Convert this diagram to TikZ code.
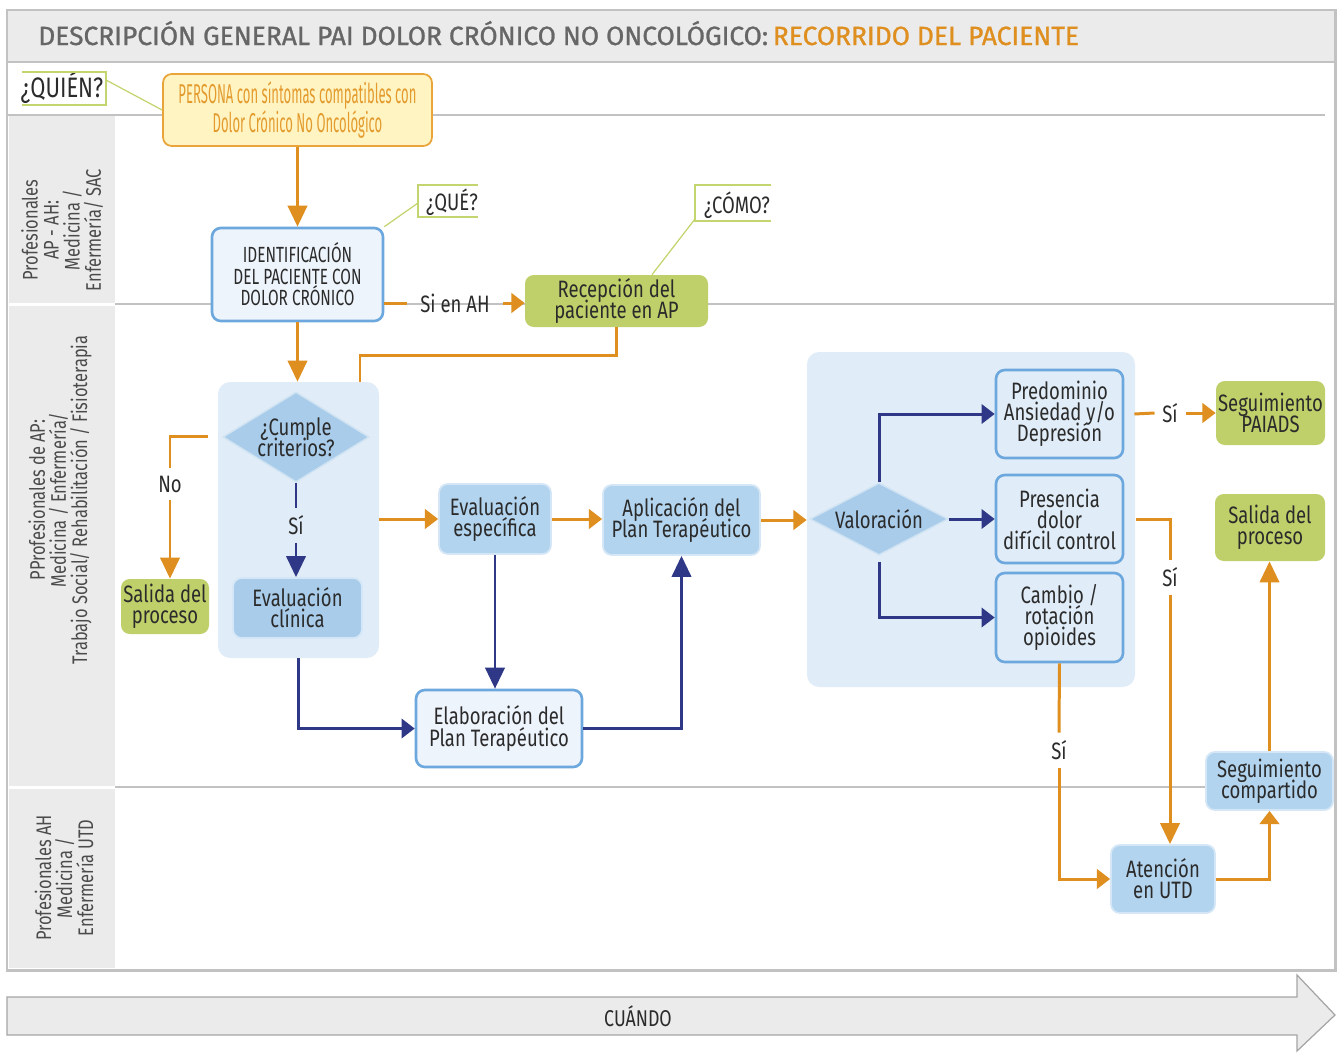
\documentclass[tikz,border=0pt]{standalone}
\usepackage{fontspec}
\setmainfont{Fira Sans}[FakeStretch=0.78]
\newfontfamily\narrowfont{Fira Sans}[FakeStretch=0.7]
\newfontfamily\condfont{Fira Sans}[FakeStretch=0.48]
\newfontfamily\titlefont{Fira Sans}[FakeStretch=1.0,FakeBold=1]
\usetikzlibrary{arrows.meta,shapes.geometric,calc}
\setlength{\lineskiplimit}{-20pt}
\definecolor{orng}{HTML}{DE8F1F}
\definecolor{navy}{HTML}{2E3886}
\definecolor{grn}{HTML}{BFD06A}
\definecolor{lblue}{HTML}{B2D4EE}
\definecolor{dblue}{HTML}{A8CCEA}
\definecolor{contf}{HTML}{E0ECF7}
\definecolor{bbord}{HTML}{6CA8DE}
\definecolor{pale}{HTML}{EEF4FC}
\definecolor{lgray}{HTML}{C2C2C2}
\definecolor{bggray}{HTML}{EBEBEB}
\definecolor{txt}{HTML}{2B2B2B}
\definecolor{ttl}{HTML}{666666}
\definecolor{cgreen}{HTML}{C2D56E}
\definecolor{yell}{HTML}{FFF4C2}
\definecolor{yellb}{HTML}{EAA53A}
\definecolor{ytxt}{HTML}{E39B2E}
\begin{document}
\begin{tikzpicture}[x=0.02cm,y=-0.02cm,
  base/.style={align=center, inner sep=0pt, text=txt, font=\fontsize{13.5}{12}\selectfont, rounded corners=5pt},
  size/.style 2 args={minimum width=#1*0.02cm, minimum height=#2*0.02cm},
  paleb/.style={base, fill=pale, draw=bbord, line width=1.5pt},
  lbox/.style={base, fill=lblue, draw=lblue!55!white, line width=1pt},
  gbox/.style={base, fill=grn},
  pbox/.style={base, fill=yell, draw=yellb, line width=1pt, text=ytxt},
  cont/.style={fill=contf, rounded corners=7pt, inner sep=0pt},
  dia/.style={diamond, fill=dblue, draw=dblue!55!white, line width=0.8pt, inner sep=0pt, align=center, text=txt, font=\fontsize{13.5}{12}\selectfont},
  oline/.style={draw=orng, line width=1.7pt},
  nline/.style={draw=navy, line width=1.7pt},
  btip/.style={-{Triangle[length=12pt,width=11pt]}},
  stip/.style={-{Triangle[length=7.5pt,width=11pt]}},
  lbl/.style={inner sep=0.15cm, text=txt, font=\fontsize{13.5}{12}\selectfont},
  callout/.style={draw=cgreen, line width=1.3pt},
  lane/.style={rotate=90, align=center, inner sep=0pt, text=txt!85!white, font=\fontsize{12}{12}\selectfont}
]
\useasboundingbox (0,0) rectangle (1339,1052);
\fill[white] (0,0) rectangle (1339,1052);
% frame and title
\fill[bggray] (7,10) rectangle (1335,62);
\fill[bggray] (9,116) rectangle (115,968);
\fill[white] (9,302.5) rectangle (115,305.5);
\fill[white] (9,785.5) rectangle (115,788.5);
\draw[lgray, line width=1.3pt] (8,115) -- (1325,115);
\draw[lgray, line width=1.3pt] (115,304) -- (1335,304);
\draw[lgray, line width=1.3pt] (115,787) -- (1335,787);
\draw[lgray, line width=1.4pt] (7,62) -- (1335,62);
\draw[lgray, line width=1.7pt] (7,10) rectangle (1335,970);
\node[anchor=base west, inner sep=0pt, text=ttl, font=\titlefont\fontsize{15}{15}\selectfont] (title) at (38,45) {DESCRIPCIÓN GENERAL PAI DOLOR CRÓNICO NO ONCOLÓGICO:};
\node[anchor=base west, inner sep=0pt, text=orng, font=\titlefont\fontsize{15}{15}\selectfont] (subtitle) at ([xshift=0.08cm]title.base east) {RECORRIDO DEL PACIENTE};
% lane labels
\node[lane] (lane1) at (62,230) {Profesionales\\AP - AH:\\Medicina /\\Enfermería/ SAC};
\node[lane] (lane2) at (60,500) {PProfesionales de AP:\\Medicina / Enfermería/\\Trabajo Social/ Rehabilitación / Fisioterapia};
\node[lane] (lane3) at (64,878) {Profesionales AH\\Medicina /\\Enfermería UTD};
% bottom arrow
\draw[fill=bggray, draw=lgray!85!black, line width=0.7pt] (7,997) -- (1297,997) -- (1297,975) -- (1335,1015) -- (1297,1051) -- (1297,1035) -- (7,1035) -- cycle;
\node[inner sep=0pt, text=txt, font=\fontsize{13}{13}\selectfont] (cuando) at (638,1016) {CUÁNDO};
% containers
\node[cont, size={161}{276}] (cont1) at (298.5,520) {};
\node[cont, size={328}{335}] (cont2) at (971,519.5) {};
% nodes
\node[pbox, size={269}{72}, font=\condfont\fontsize{15.5}{16}\selectfont] (person) at (297.5,110) {PERSONA con síntomas compatibles con\\Dolor Crónico No Oncológico};
\node[paleb, size={171}{93}, font=\narrowfont\fontsize{12.5}{12.3}\selectfont] (ident) at (297.5,274.5) {IDENTIFICACIÓN\\DEL PACIENTE CON\\DOLOR CRÓNICO};
\node[gbox, size={183}{52}] (recep) at (616.5,301) {Recepción del\\paciente en AP};
\node[dia, aspect=1.62, minimum width=146*0.02cm, minimum height=90*0.02cm] (cumple) at (296,437) {¿Cumple\\criterios?};
\node[gbox, size={88}{55}] (salida1) at (165,606.5) {Salida del\\proceso};
\node[lbox, fill=dblue, size={129}{60}] (evalc) at (297.5,608) {Evaluación\\clínica};
\node[lbox, size={112}{70}] (evale) at (495,519) {Evaluación\\específica};
\node[lbox, size={157}{70}] (aplic) at (681.5,520) {Aplicación del\\Plan Terapéutico};
\node[paleb, size={166}{77}] (elab) at (499,728.5) {Elaboración del\\Plan Terapéutico};
\node[dia, aspect=1.9, minimum width=138*0.02cm, minimum height=72*0.02cm] (valor) at (879,519) {Valoración};
\node[paleb, fill=contf, size={127}{88}] (pred) at (1059.5,414) {Predominio\\Ansiedad y/o\\Depresión};
\node[paleb, fill=contf, size={127}{88}] (pres) at (1059.5,519) {Presencia\\dolor\\difícil control};
\node[paleb, fill=contf, size={127}{89}] (camb) at (1059.5,617.5) {Cambio /\\rotación\\opioides};
\node[gbox, size={109}{64}] (segp) at (1270.5,413) {Seguimiento\\PAIADS};
\node[gbox, size={110}{67}] (salida2) at (1270,527.5) {Salida del\\proceso};
\node[lbox, size={104}{68}] (aten) at (1163,879) {Atención\\en UTD};
\node[lbox, size={127}{58}] (segc) at (1269.5,781) {Seguimiento\\compartido};
% callouts
\node[inner sep=0pt, text=txt, font=\fontsize{16}{16}\selectfont] (quien) at (62,88) {¿QUIÉN?};
\draw[callout] (22,72) -| (106,105) -- (22,105);
\coordinate (quienE) at (106,80);
\draw[callout, line width=0.7pt] (quienE) -- (person.west);
\node[inner sep=0pt, text=txt, font=\fontsize{13.5}{13.5}\selectfont] (que) at (452,202) {¿QUÉ?};
\draw[callout] (478,185) -- (418,185) -- (418,217) -- (478,217);
\coordinate (queW) at (418,203);
\draw[callout, line width=0.7pt] (queW) -- (ident.north east);
\node[inner sep=0pt, text=txt, font=\fontsize{13.5}{13.5}\selectfont] (como) at (737,205) {¿CÓMO?};
\draw[callout] (771,185) -- (695,185) -- (695,221) -- (771,221);
\coordinate (comoW) at (695,219);
\draw[callout, line width=0.7pt] (comoW) -- ($(recep.north)+(35.5,0)$);
% labels on connectors
\node[lbl, inner xsep=0.26cm] (sienah) at (455,303) {Si en AH};
\node[lbl] (no) at (170,484) {No};
\node[lbl] (si1) at (296,525) {Sí};
\node[lbl] (si2) at (1170,413) {Sí};
\node[lbl] (si3) at (1170,577) {Sí};
\node[lbl] (si4) at (1059,750) {Sí};
% orange connectors
\draw[oline, btip] (person.south) -- (ident.north);
\draw[oline] (ident.east |- sienah.west) -- (sienah.west);
\draw[oline, stip] (sienah.east) -- (sienah.east -| recep.west);
\coordinate (c1in) at (360,382);
\draw[oline] (recep.south) -- ++(0,28) -| (c1in);
\draw[oline, btip] (ident.south) -- (ident.south |- cont1.north);
\coordinate (noS) at (208,436);
\draw[oline] (noS) -| (no.north);
\draw[oline, btip] (no.south) -- (no.south |- salida1.north);
\draw[oline, stip] (cont1.east |- evale.west) -- (evale.west);
\draw[oline, stip] (evale.east) -- (evale.east -| aplic.west);
\draw[oline, stip] (aplic.east) -- (aplic.east -| cont2.west);
\draw[oline] ([xshift=0.2cm]pred.east) -- (si2.west);
\draw[oline, stip] (si2.east) -- (si2.east -| segp.west);
\draw[oline] ([xshift=0.24cm]pres.east) -| (si3.north);
\draw[oline, btip] (si3.south) -- (si3.south |- aten.north);
\draw[oline] (camb.south) -- (si4.north);
\draw[oline, stip] (si4.south) |- (aten.west);
\draw[oline, stip] (aten.east) -| (segc.south);
\draw[oline, btip] (segc.north) -- (segc.north |- salida2.south);
% navy connectors
\draw[nline] (cumple.south) -- (si1.north);
\draw[nline, btip] (si1.south) -- (si1.south |- evalc.north);
\draw[nline, stip] (cont1.south) |- (elab.west);
\draw[nline, btip] (evale.south) -- (evale.south |- elab.north);
\draw[nline, btip] (elab.east) -| (aplic.south);
\draw[nline, stip] (valor.north) |- (pred.west);
\draw[nline, stip] (valor.east) -- (pres.west);
\draw[nline, stip] ([yshift=-0.12cm]valor.south) |- (camb.west);
\end{tikzpicture}
\end{document}
